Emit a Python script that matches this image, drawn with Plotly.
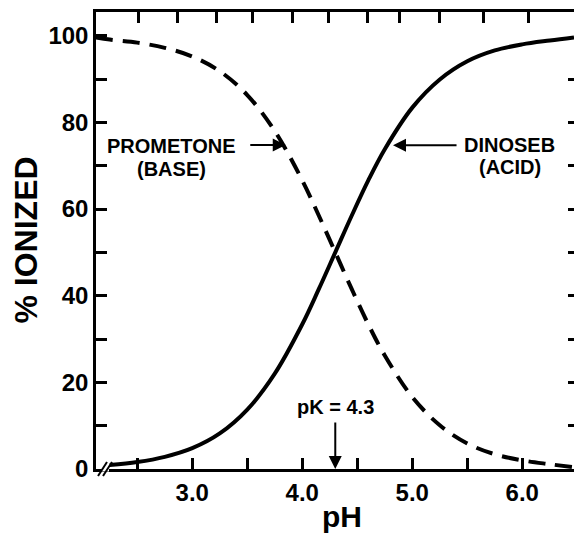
import plotly.graph_objects as go

# Percent ionized versus pH for an acid and a base sharing pK = 4.3
ph_acid = [2.25, 2.5, 2.75, 3.0, 3.25, 3.5, 3.75, 4.0, 4.15, 4.3, 4.45, 4.6,
           4.75, 5.0, 5.25, 5.5, 5.75, 6.0, 6.25, 6.47]
dinoseb = [0.9, 1.6, 2.8, 4.8, 8.2, 13.7, 22.0, 33.4, 41.5, 50.0, 58.5, 66.6,
           73.8, 83.4, 89.9, 94.1, 96.6, 98.0, 98.9, 99.6]

ph_base = [2.125, 2.25, 2.5, 2.75, 3.0, 3.25, 3.5, 3.75, 4.0, 4.15, 4.3, 4.45,
           4.6, 4.75, 5.0, 5.25, 5.5, 5.75, 6.0, 6.25, 6.47]
prometone = [99.6, 99.1, 98.4, 97.2, 95.2, 91.8, 86.3, 78.0, 66.6, 58.5, 50.0,
             41.5, 33.4, 26.2, 16.6, 10.1, 5.9, 3.4, 2.0, 1.1, 0.4]

pk_value = 4.3

# Axis ticks
x_tick_vals = [2.5, 3.0, 3.5, 4.0, 4.5, 5.0, 5.5, 6.0]
x_tick_text = ["", "3.0", "", "4.0", "", "5.0", "", "6.0"]
top_tick_ph = [2.51, 2.87, 3.22, 3.55, 3.91, 4.24, 4.59, 4.88, 5.25, 5.65, 6.06]
y_tick_vals = [0, 10, 20, 30, 40, 50, 60, 70, 80, 90, 100]
y_tick_text = ["0", "", "20", "", "40", "", "60", "", "80", "", "100"]
right_tick_vals = [10, 20, 30, 40, 50, 60, 70, 80, 90]

x_range = [2.125, 6.47]
y_range = [0, 105.47]

FONT = "Liberation Sans, Arial, Helvetica, sans-serif"
INK = "black"

fig = go.Figure()

fig.add_trace(go.Scatter(
    x=ph_base, y=prometone, mode="lines", showlegend=False, hoverinfo="skip",
    line=dict(color=INK, width=4, dash="17px,10px", shape="spline"),
))
fig.add_trace(go.Scatter(
    x=ph_acid, y=dinoseb, mode="lines", showlegend=False, hoverinfo="skip",
    line=dict(color=INK, width=4, shape="spline"),
))
# carrier for the top and right frame axes
fig.add_trace(go.Scatter(x=[None], y=[None], xaxis="x2", yaxis="y2",
                         showlegend=False, hoverinfo="skip"))

tick_font = dict(family=FONT, size=24, color=INK, weight="bold")

fig.update_layout(
    width=574, height=535,
    margin=dict(l=96, r=0, t=12, b=66),
    paper_bgcolor="white", plot_bgcolor="white",
    font=dict(family=FONT, color=INK, weight="bold"),
    xaxis=dict(
        range=x_range, tickvals=x_tick_vals, ticktext=x_tick_text,
        ticks="inside", ticklen=11, tickwidth=2.5, tickcolor=INK,
        showline=True, linewidth=2.5, linecolor=INK,
        showgrid=False, zeroline=False, tickfont=tick_font,
    ),
    xaxis2=dict(
        overlaying="x", side="top", anchor="y", range=x_range,
        tickvals=top_tick_ph, ticks="inside", ticklen=11, tickwidth=2.5,
        tickcolor=INK, showticklabels=False,
        showline=True, linewidth=2.5, linecolor=INK,
        showgrid=False, zeroline=False,
    ),
    yaxis=dict(
        range=y_range, tickvals=y_tick_vals, ticktext=y_tick_text,
        ticks="inside", ticklen=11, tickwidth=2.5, tickcolor=INK,
        showline=True, linewidth=2.5, linecolor=INK,
        showgrid=False, zeroline=False, tickfont=tick_font,
    ),
    yaxis2=dict(
        overlaying="y", side="right", anchor="x", range=y_range,
        tickvals=right_tick_vals, ticks="inside", ticklen=6, tickwidth=2.5,
        tickcolor=INK, showticklabels=False, showline=False,
        showgrid=False, zeroline=False,
    ),
)

# axis break on the pH axis
fig.add_shape(type="line", xref="x domain", yref="y domain",
              xsizemode="pixel", ysizemode="pixel", xanchor=0, yanchor=0,
              x0=6, x1=13, y0=0, y1=0, layer="above",
              line=dict(color="white", width=5))
for dx in (2, 7):
    fig.add_shape(type="line", xref="x domain", yref="y domain",
                  xsizemode="pixel", ysizemode="pixel", xanchor=0, yanchor=0,
                  x0=dx, x1=dx + 9, y0=-7, y1=7, layer="above",
                  line=dict(color=INK, width=2))

label_font = dict(family=FONT, size=20, color=INK, weight="bold")

def text_at(x, y, s, font=label_font, **kw):
    fig.add_annotation(x=x, y=y, text=s, showarrow=False, font=font,
                       xanchor="center", yanchor="middle", **kw)

def arrow_to(x, y, ax, ay):
    fig.add_annotation(x=x, y=y, ax=ax, ay=ay, text="", showarrow=True,
                       arrowhead=2, arrowsize=1.3, arrowwidth=2,
                       arrowcolor=INK, standoff=0, startstandoff=0)

text_at(2.815, 74.45, "PROMETONE")
text_at(2.815, 69.3, "(BASE)")
arrow_to(3.85, 74.8, -37, 0)

text_at(5.888, 74.7, "DINOSEB")
text_at(5.888, 69.8, "(ACID)")
arrow_to(4.825, 74.7, 65, 0)

text_at(pk_value, 14.4, f"pK = {pk_value}")
arrow_to(pk_value, 0, 0, -48)

fig.add_annotation(xref="paper", yref="paper", x=-0.1485, y=0.5,
                   text="% IONIZED", textangle=-90, showarrow=False,
                   font=dict(family=FONT, size=32, color=INK, weight="bold"),
                   xanchor="center", yanchor="middle")
fig.add_annotation(xref="paper", yref="paper", x=0.514, y=-0.104,
                   text="pH", showarrow=False,
                   font=dict(family=FONT, size=30, color=INK, weight="bold"),
                   xanchor="center", yanchor="middle")

fig.write_html("out.html")
